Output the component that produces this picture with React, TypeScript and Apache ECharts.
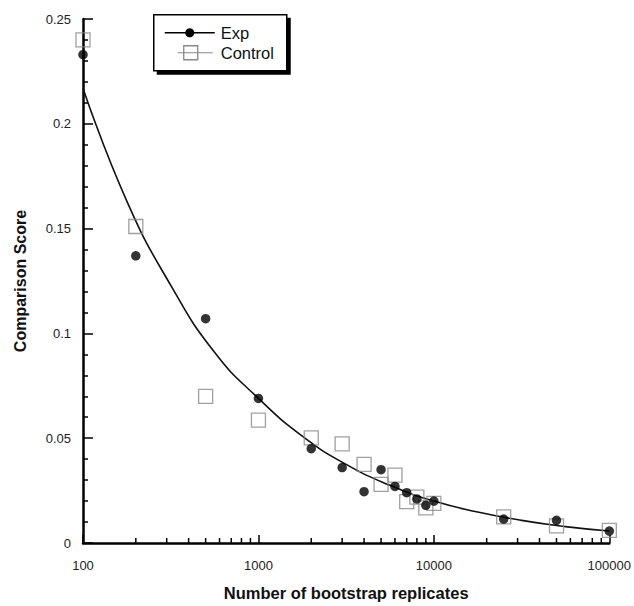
import React, { useEffect, useRef } from "react";
import * as echarts from "echarts";

const xValues = [100, 200, 500, 1000, 2000, 3000, 4000, 5000, 6000, 7000, 8000, 9000, 10000, 25000, 50000, 100000];
const expValues = [0.233, 0.137, 0.107, 0.069, 0.045, 0.036, 0.0245, 0.035, 0.027, 0.024, 0.021, 0.018, 0.020, 0.0114, 0.0108, 0.0057];
const controlValues = [0.240, 0.151, 0.070, 0.0586, 0.0502, 0.0473, 0.0375, 0.028, 0.0324, 0.0197, 0.0219, 0.0168, 0.0189, 0.0125, 0.0082, 0.006];

const fitX = [100, 178, 316, 562, 1000, 1778, 3162, 5623, 10000, 17783, 31623, 56234, 100000];
const fitY = [0.217, 0.163, 0.123, 0.091, 0.069, 0.051, 0.0375, 0.0275, 0.020, 0.0148, 0.0108, 0.0078, 0.0057];

const xMinorTicks = [200, 300, 400, 500, 600, 700, 800, 900, 2000, 3000, 4000, 5000, 6000, 7000, 8000, 9000, 20000, 30000, 40000, 50000, 60000, 70000, 80000, 90000];

const FONT = "'Liberation Sans', Arial, Helvetica, sans-serif";

export default function App() {
  const ref = useRef<HTMLDivElement>(null);
  useEffect(() => {
    if (!ref.current) return;
    const chart = echarts.init(ref.current, undefined, { renderer: "svg" });
    chart.setOption({
      animation: false,
      backgroundColor: "#ffffff",
      textStyle: { fontFamily: FONT },
      grid: { left: 83, right: 22, top: 19, bottom: 58, containLabel: false },
      xAxis: {
        type: "log",
        logBase: 10,
        min: 100,
        max: 100000,
        name: "Number of bootstrap replicates",
        nameLocation: "middle",
        nameGap: 41,
        nameTextStyle: { fontFamily: FONT, fontWeight: "bold", fontSize: 16.5, color: "#111" },
        axisLine: { show: true, lineStyle: { color: "#000", width: 2.5 } },
        axisTick: { show: true, inside: true, length: 8, lineStyle: { color: "#000", width: 1.5 } },
        minorTick: { show: false },
        splitLine: { show: false },
        axisLabel: {
          fontFamily: FONT,
          fontSize: 13,
          color: "#222",
          margin: 16,
          formatter: (v: number) => String(Math.round(v)),
        },
      },
      yAxis: {
        type: "value",
        min: 0,
        max: 0.25,
        interval: 0.05,
        name: "Comparison Score",
        nameLocation: "middle",
        nameGap: 55,
        nameTextStyle: { fontFamily: FONT, fontWeight: "bold", fontSize: 16, color: "#111" },
        axisLine: { show: true, lineStyle: { color: "#000", width: 2.5 } },
        axisTick: { show: true, inside: true, length: 10, lineStyle: { color: "#000", width: 1.5 } },
        minorTick: { show: true, splitNumber: 5, length: 5, lineStyle: { color: "#000", width: 1.5 } },
        splitLine: { show: false },
        axisLabel: { fontFamily: FONT, fontSize: 13, color: "#222", margin: 12 },
      },
      series: [
        {
          type: "custom",
          name: "minorTicks",
          clip: false,
          silent: true,
          z: 5,
          data: xMinorTicks.map((v) => [v, 0]),
          renderItem: (params: any, api: any) => {
            const p = api.coord([api.value(0), 0]);
            return {
              type: "line",
              shape: { x1: p[0], y1: p[1], x2: p[0], y2: p[1] - 5 },
              style: { stroke: "#000", lineWidth: 1.5 },
            };
          },
        },
        {
          type: "line",
          name: "fit",
          data: fitX.map((x, i) => [x, fitY[i]]),
          smooth: 0.5,
          showSymbol: false,
          symbol: "none",
          lineStyle: { color: "#111", width: 1.6 },
          z: 2,
        },
        {
          type: "scatter",
          name: "Control",
          data: xValues.map((x, i) => [x, controlValues[i]]),
          symbol: "rect",
          symbolSize: 14,
          itemStyle: { color: "rgba(255,255,255,0)", borderColor: "#888", borderWidth: 1.3 },
          z: 3,
        },
        {
          type: "scatter",
          name: "Exp",
          data: xValues.map((x, i) => [x, expValues[i]]),
          symbol: "circle",
          symbolSize: 9.5,
          itemStyle: { color: "#000" },
          z: 4,
        },
      ],
      graphic: [
        {
          type: "group",
          left: 153,
          top: 14,
          children: [
            { type: "rect", shape: { x: 3, y: 3, width: 134, height: 57 }, style: { fill: "#000" } },
            { type: "rect", shape: { x: 0, y: 0, width: 133, height: 56 }, style: { fill: "#fff", stroke: "#000", lineWidth: 1.5 } },
            { type: "line", shape: { x1: 11, y1: 18, x2: 61, y2: 18 }, style: { stroke: "#000", lineWidth: 1.5 } },
            { type: "circle", shape: { cx: 36, cy: 18, r: 4.5 }, style: { fill: "#000" } },
            { type: "text", x: 67, y: 18, style: { text: "Exp", font: `16.5px ${FONT}`, fill: "#111", verticalAlign: "middle", align: "left" } },
            { type: "line", shape: { x1: 24, y1: 38, x2: 59, y2: 38 }, style: { stroke: "#888", lineWidth: 1 } },
            { type: "rect", shape: { x: 30, y: 31, width: 14, height: 14 }, style: { fill: "rgba(255,255,255,0)", stroke: "#888", lineWidth: 1.3 } },
            { type: "text", x: 67, y: 38, style: { text: "Control", font: `16.5px ${FONT}`, fill: "#111", verticalAlign: "middle", align: "left" } },
          ],
        },
      ],
    });
    return () => chart.dispose();
  }, []);
  return <div ref={ref} style={{ width: 634, height: 606, position: "absolute", left: 0, top: 0 }} />;
}
